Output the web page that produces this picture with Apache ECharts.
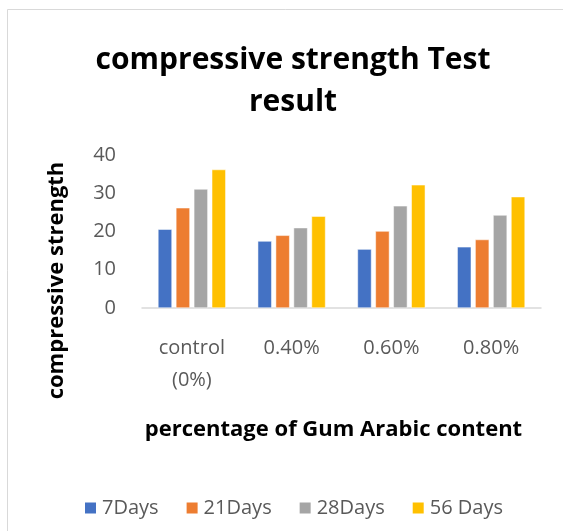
<!DOCTYPE html>
<html>
<head>
<meta charset="utf-8">
<script src="https://cdn.jsdelivr.net/npm/echarts@6/dist/echarts.min.js"></script>
<style>
  html, body { margin: 0; padding: 0; background: #fff; }
  #chart { width: 563px; height: 531px; }
</style>
</head>
<body>
<div id="chart"></div>
<script>
var categories = ['control\n(0%)', '0.40%', '0.60%', '0.80%'];
var seriesNames = ['7Days', '21Days', '28Days', '56 Days'];
var days7 = [20.6, 17.5, 15.4, 16.0];
var days21 = [26.2, 19.0, 20.1, 17.9];
var days28 = [31.1, 21.0, 26.7, 24.3];
var days56 = [36.2, 24.0, 32.2, 29.1];
var yTicks = [0, 10, 20, 30, 40];

var colors = ['#4472c4', '#ed7d31', '#a5a5a5', '#ffc000'];
var values = [days7, days21, days28, days56];
var font = '"Open Sans", sans-serif';

var chart = echarts.init(document.getElementById('chart'));

var series = seriesNames.map(function (name, i) {
    return {
        name: name,
        type: 'bar',
        data: values[i],
        barGap: '28%',
        barCategoryGap: '32%',
        itemStyle: { color: colors[i], borderColor: '#ffffff', borderWidth: 0.5 }
    };
});

chart.setOption({
    backgroundColor: '#ffffff',
    color: colors,
    animation: false,
    graphic: [{
        type: 'rect',
        shape: { x: 7.5, y: 9.5, width: 600, height: 600 },
        style: { fill: 'none', stroke: '#d9d9d9', lineWidth: 1 }
    }],
    title: {
        text: 'compressive strength Test\nresult',
        left: 288,
        top: 34,
        textAlign: 'center',
        textStyle: {
            fontFamily: font,
            fontWeight: 'bold',
            fontSize: 30,
            lineHeight: 42,
            color: '#000000'
        }
    },
    legend: {
        data: seriesNames,
        top: 498,
        left: 83,
        icon: 'rect',
        itemWidth: 13,
        itemHeight: 13,
        itemGap: 26,
        padding: 0,
        textStyle: { fontFamily: font, fontSize: 20, color: '#595959' }
    },
    grid: {
        left: 142,
        right: 22,
        top: 155,
        bottom: 223,
        containLabel: false
    },
    xAxis: {
        type: 'category',
        data: categories,
        name: 'percentage of Gum Arabic content',
        nameLocation: 'middle',
        nameGap: 111,
        nameTextStyle: { fontFamily: font, fontWeight: 'bold', fontSize: 22, color: '#000000', padding: [0, 16, 0, 0] },
        axisLine: { lineStyle: { color: '#d9d9d9', width: 1.5 } },
        axisTick: { show: false },
        axisLabel: {
            fontFamily: font,
            fontSize: 20,
            color: '#595959',
            margin: 24,
            lineHeight: 32
        }
    },
    yAxis: {
        type: 'value',
        min: yTicks[0],
        max: yTicks[yTicks.length - 1],
        interval: 10,
        name: 'compressive strength',
        nameLocation: 'middle',
        nameGap: 74,
        nameRotate: 90,
        nameTextStyle: { fontFamily: font, fontWeight: 'bold', fontSize: 22, color: '#000000', padding: [0, 0, 0, -98] },
        splitLine: { show: false },
        axisLine: { show: false },
        axisTick: { show: false },
        axisLabel: { fontFamily: font, fontSize: 20, color: '#595959', margin: 26 }
    },
    series: series
});
</script>
</body>
</html>
